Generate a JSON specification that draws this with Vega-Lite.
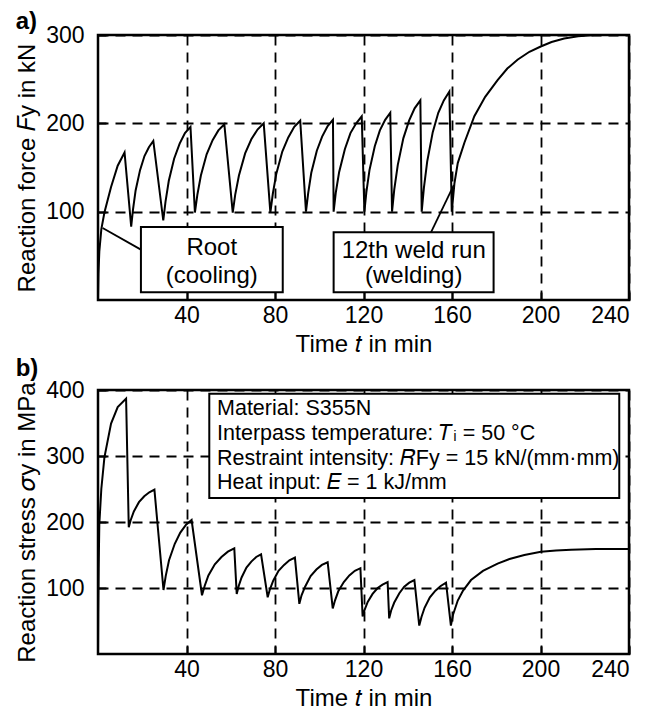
{
  "$schema": "https://vega.github.io/schema/vega-lite/v6.json",
  "padding": {"left": 14, "top": 8, "right": 5, "bottom": 5},
  "spacing": -3,
  "config": {
    "font": "Liberation Sans",
    "view": {"stroke": "black", "strokeWidth": 2.5},
    "axis": {
      "gridColor": "black", "gridDash": [10, 7], "gridWidth": 1.8, "gridOpacity": 1,
      "domain": false, "tickColor": "black", "tickSize": -8, "tickWidth": 2,
      "labelFontSize": 23, "labelColor": "black", "labelFont": "Liberation Sans",
      "titleFontSize": 24, "titleFontWeight": "normal", "titleColor": "black", "titleFont": "Liberation Sans"
    },
    "axisX": {"labelPadding": 12, "titlePadding": 5},
    "axisY": {"labelPadding": 22, "titlePadding": 6},
    "title": {"fontSize": 24, "fontWeight": "bold", "anchor": "start", "frame": "bounds", "color": "black", "font": "Liberation Sans", "offset": -10}
  },
  "datasets": {
    "force": [
      {"t":0,"F":0},{"t":0.2,"F":30},{"t":0.6,"F":55},{"t":1.5,"F":80},{"t":2.9,"F":99},{"t":5.9,"F":128},{"t":8.9,"F":152},{"t":12,"F":167},
      {"t":15,"F":83},{"t":15.8,"F":102},{"t":17,"F":124},{"t":19,"F":147},{"t":21,"F":163},{"t":23,"F":173},{"t":25,"F":180},
      {"t":29.5,"F":90},{"t":30.5,"F":111},{"t":32,"F":135},{"t":34.4,"F":160},{"t":36.9,"F":177},{"t":39.3,"F":189},{"t":41.8,"F":196},
      {"t":43.8,"F":99},{"t":44.9,"F":119},{"t":46.5,"F":141},{"t":49.1,"F":165},{"t":51.8,"F":181},{"t":54.4,"F":192},{"t":57.1,"F":199},
      {"t":60.9,"F":99},{"t":62,"F":119},{"t":63.7,"F":141},{"t":66.5,"F":166},{"t":69.3,"F":182},{"t":72.1,"F":193},{"t":74.9,"F":200},
      {"t":77.9,"F":99},{"t":79,"F":120},{"t":80.6,"F":143},{"t":83.3,"F":168},{"t":86,"F":184},{"t":88.7,"F":196},{"t":91.4,"F":203},
      {"t":94,"F":100},{"t":95,"F":121},{"t":96.4,"F":144},{"t":98.9,"F":169},{"t":101.3,"F":185},{"t":103.8,"F":197},{"t":106.2,"F":204},
      {"t":106.5,"F":100},{"t":107.5,"F":122},{"t":109,"F":145},{"t":111.6,"F":171},{"t":114.1,"F":189},{"t":116.7,"F":200},{"t":119.2,"F":208},
      {"t":120.4,"F":100},{"t":121.3,"F":122},{"t":122.7,"F":147},{"t":125.1,"F":174},{"t":127.4,"F":192},{"t":129.8,"F":204},{"t":132.1,"F":212},
      {"t":132.9,"F":100},{"t":133.9,"F":125},{"t":135.5,"F":153},{"t":138,"F":183},{"t":140.6,"F":203},{"t":143.1,"F":217},{"t":145.7,"F":226},
      {"t":146.3,"F":100},{"t":147.3,"F":127},{"t":148.8,"F":157},{"t":151.3,"F":190},{"t":153.8,"F":212},{"t":156.3,"F":226},{"t":158.8,"F":236},
      {"t":159.9,"F":100},{"t":161.1,"F":132},{"t":162.6,"F":155},{"t":165.6,"F":178},{"t":170.1,"F":208},{"t":175,"F":230},{"t":180.6,"F":249},
      {"t":185,"F":262},{"t":189.6,"F":272},{"t":195,"F":281},{"t":200.1,"F":287},{"t":205,"F":292},{"t":210.7,"F":296},{"t":217,"F":298.5},{"t":224.3,"F":300},{"t":232,"F":300}
    ],
    "stress": [
      {"t":0,"S":0},{"t":0.1,"S":60},{"t":0.3,"S":130},{"t":0.6,"S":197},{"t":1.5,"S":250},{"t":2.9,"S":298},{"t":5.9,"S":349},{"t":8.9,"S":374},{"t":12.7,"S":387},
      {"t":13.9,"S":192},{"t":14.8,"S":203},{"t":16.2,"S":216},{"t":18.5,"S":230},{"t":20.9,"S":239},{"t":23.2,"S":245},{"t":25.5,"S":249},
      {"t":29.6,"S":97},{"t":30.6,"S":118},{"t":32.1,"S":142},{"t":34.7,"S":167},{"t":37.2,"S":184},{"t":39.8,"S":196},{"t":42.3,"S":203},
      {"t":47,"S":89},{"t":48.2,"S":103},{"t":49.9,"S":119},{"t":52.8,"S":136},{"t":55.8,"S":147},{"t":58.7,"S":155},{"t":61.6,"S":160},
      {"t":62.7,"S":91},{"t":63.6,"S":103},{"t":64.9,"S":116},{"t":67.1,"S":131},{"t":69.3,"S":140},{"t":71.5,"S":147},{"t":73.7,"S":151},
      {"t":76.7,"S":86},{"t":77.7,"S":98},{"t":79.2,"S":111},{"t":81.6,"S":126},{"t":84.1,"S":135},{"t":86.5,"S":142},{"t":89,"S":146},
      {"t":91,"S":76},{"t":92,"S":89},{"t":93.6,"S":102},{"t":96.1,"S":118},{"t":98.7,"S":128},{"t":101.2,"S":135},{"t":103.8,"S":139},
      {"t":106.1,"S":69},{"t":107.1,"S":81},{"t":108.6,"S":95},{"t":111.1,"S":109},{"t":113.6,"S":119},{"t":116.1,"S":126},{"t":118.6,"S":130},
      {"t":119.6,"S":57},{"t":120.5,"S":67},{"t":121.9,"S":79},{"t":124.1,"S":91},{"t":126.4,"S":100},{"t":128.6,"S":105},{"t":130.9,"S":109},
      {"t":131.6,"S":54},{"t":132.5,"S":66},{"t":133.9,"S":78},{"t":136.2,"S":92},{"t":138.4,"S":102},{"t":140.7,"S":108},{"t":143,"S":112},
      {"t":145.2,"S":43},{"t":146.2,"S":56},{"t":147.6,"S":70},{"t":150,"S":86},{"t":152.5,"S":96},{"t":154.9,"S":103},{"t":157.3,"S":108},
      {"t":159.5,"S":43},{"t":160.5,"S":60},{"t":162.6,"S":81},{"t":165,"S":96},{"t":168.6,"S":112},{"t":174,"S":126},{"t":180.6,"S":137},
      {"t":186,"S":144},{"t":192.7,"S":150},{"t":200.2,"S":155},{"t":207,"S":157},{"t":213.8,"S":158},{"t":225,"S":159},{"t":240,"S":159}
    ],
    "boxesA": [
      {"t1":19.4,"t2":83.5,"F1":8.8,"F2":82.7},
      {"t1":106.5,"t2":178.8,"F1":8.8,"F2":76.6}
    ],
    "leadersA": [
      {"t1":19.4,"F1":57,"t2":2.1,"F2":81.6},
      {"t1":150.5,"F1":76.6,"t2":160.8,"F2":130}
    ],
    "textA": [
      {"t":51.4,"F":51.4,"label":"Root"},
      {"t":51.4,"F":19.4,"label":"(cooling)"},
      {"t":142.7,"F":47.7,"label":"12th weld run"},
      {"t":142.7,"F":19.4,"label":"(welding)"}
    ],
    "boxB": [
      {"t1":50.3,"t2":235.6,"S1":236.4,"S2":394.4}
    ],
    "textB": [
      {"t":53.8,"S":362.6,"label":"Material: S355N"},
      {"t":53.8,"S":324.7,"label":"Interpass temperature: 𝑇ᵢ = 50 °C"},
      {"t":53.8,"S":286.8,"label":"Restraint intensity: 𝑅Fy = 15 kN/(mm·mm)"},
      {"t":53.8,"S":250.5,"label":"Heat input: 𝐸 = 1 kJ/mm"}
    ]
  },
  "vconcat": [
    {
      "width": 531, "height": 265,
      "title": {"text": "a)"},
      "layer": [
        {
          "data": {"name": "force"},
          "mark": {"type": "line", "color": "black", "strokeWidth": 2},
          "encoding": {
            "x": {"field": "t", "type": "quantitative", "scale": {"domain": [0, 240], "nice": false},
                  "axis": {"values": [40, 80, 120, 160, 200, 240], "title": "Time 𝑡 in min"}},
            "y": {"field": "F", "type": "quantitative", "scale": {"domain": [0, 300], "nice": false},
                  "axis": {"values": [100, 200, 300], "title": "Reaction force 𝐹y in kN"}}
          }
        },
        {
          "data": {"name": "leadersA"},
          "mark": {"type": "rule", "color": "black", "strokeWidth": 1.8},
          "encoding": {
            "x": {"field": "t1", "type": "quantitative"},
            "x2": {"field": "t2"},
            "y": {"field": "F1", "type": "quantitative"},
            "y2": {"field": "F2"}
          }
        },
        {
          "data": {"name": "boxesA"},
          "mark": {"type": "rect", "fill": "white", "stroke": "black", "strokeWidth": 2},
          "encoding": {
            "x": {"field": "t1", "type": "quantitative"},
            "x2": {"field": "t2"},
            "y": {"field": "F1", "type": "quantitative"},
            "y2": {"field": "F2"}
          }
        },
        {
          "data": {"name": "textA"},
          "mark": {"type": "text", "fontSize": 24, "align": "center", "baseline": "alphabetic", "color": "black", "font": "Liberation Sans"},
          "encoding": {
            "x": {"field": "t", "type": "quantitative"},
            "y": {"field": "F", "type": "quantitative"},
            "text": {"field": "label"}
          }
        }
      ]
    },
    {
      "width": 531, "height": 264,
      "title": {"text": "b)", "offset": -2},
      "layer": [
        {
          "data": {"name": "stress"},
          "mark": {"type": "line", "color": "black", "strokeWidth": 2},
          "encoding": {
            "x": {"field": "t", "type": "quantitative", "scale": {"domain": [0, 240], "nice": false},
                  "axis": {"values": [40, 80, 120, 160, 200, 240], "title": "Time 𝑡 in min"}},
            "y": {"field": "S", "type": "quantitative", "scale": {"domain": [0, 400], "nice": false},
                  "axis": {"values": [100, 200, 300, 400], "title": "Reaction stress 𝜎y in MPa"}}
          }
        },
        {
          "data": {"name": "boxB"},
          "mark": {"type": "rect", "fill": "white", "stroke": "black", "strokeWidth": 2},
          "encoding": {
            "x": {"field": "t1", "type": "quantitative"},
            "x2": {"field": "t2"},
            "y": {"field": "S1", "type": "quantitative"},
            "y2": {"field": "S2"}
          }
        },
        {
          "data": {"name": "textB"},
          "mark": {"type": "text", "fontSize": 21.5, "align": "left", "baseline": "alphabetic", "color": "black", "font": "Liberation Sans"},
          "encoding": {
            "x": {"field": "t", "type": "quantitative"},
            "y": {"field": "S", "type": "quantitative"},
            "text": {"field": "label"}
          }
        }
      ]
    }
  ]
}
